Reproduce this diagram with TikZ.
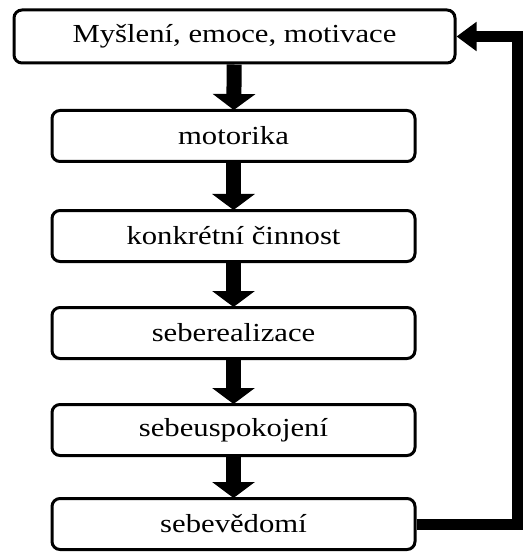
\documentclass[tikz,border=0pt]{standalone}
\usepackage{fontspec}
\setmainfont{Liberation Serif}[FakeStretch=1.18]
\usetikzlibrary{arrows.meta}
\begin{document}
\begin{tikzpicture}[x=1pt,y=-1pt,
  box/.style={draw,line width=3pt,rounded corners=8pt,minimum height=51pt,
    minimum width=363pt,inner sep=0pt,font=\fontsize{26}{30}\selectfont},
  bigbox/.style={box,minimum width=441pt,minimum height=53pt},
  flow/.style={line width=15pt,-{Triangle[width=42pt,length=16pt]},shorten >=-1pt},
  back/.style={line width=11pt,-{Triangle[width=28pt,length=20pt]}}]
\useasboundingbox (0,0) rectangle (525,553);
\node[bigbox] (n1) at (234.5,36.5) {Myšlení, emoce, motivace};
\node[box] (n2) at (233.5,136) {motorika};
\node[box] (n3) at (233.5,236) {konkrétní činnost};
\node[box] (n4) at (233.5,333) {seberealizace};
\node[box] (n5) at (233.5,430) {sebeuspokojení};
\node[box] (n6) at (233.5,524) {sebevědomí};
\draw[flow] (n1) -- (n2);
\draw[flow] (n2) -- (n3);
\draw[flow] (n3) -- (n4);
\draw[flow] (n4) -- (n5);
\draw[flow] (n5) -- (n6);
\coordinate (r) at (517,0);
\draw[back] (n6.east) -- (n6.east -| r) -- (n1.east -| r) -- (n1.east);
\end{tikzpicture}
\end{document}
